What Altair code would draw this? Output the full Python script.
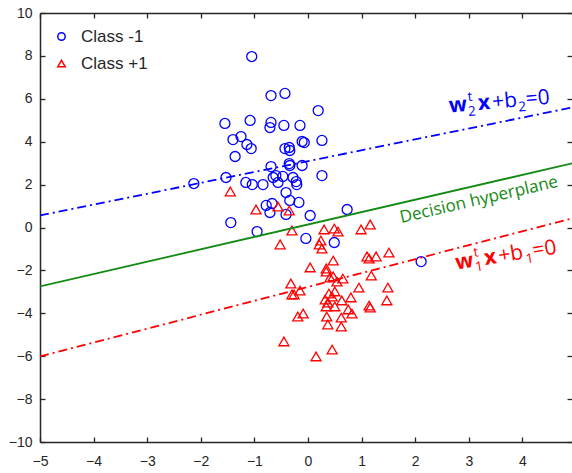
import altair as alt
import pandas as pd

# Class -1 samples
neg_x = [-1.05, -0.69, -0.43, 0.19, -1.55, -1.08, -0.69, -0.71, -0.45, -0.15,
         -1.40, -1.25, -1.14, -1.06, -1.36, -0.43, -0.35, -0.34, -0.11, -0.07,
         0.26, -0.69, -0.35, -0.34, -0.11, 0.26, -2.13, -1.53, -1.16, -1.04,
         -0.84, -0.65, -0.60, -0.56, -0.47, -0.28, -0.22, -0.21, -0.41, -0.78,
         -0.67, -0.71, -0.34, -0.17, -0.41, 0.04, -1.44, -0.95, -0.04, 0.49,
         0.73, 2.11]
neg_y = [7.97, 6.15, 6.25, 5.45, 4.85, 4.99, 4.90, 4.66, 4.76, 4.76,
         4.10, 4.24, 3.87, 3.68, 3.31, 3.68, 3.73, 3.59, 4.01, 3.96,
         4.06, 2.84, 2.98, 2.89, 2.89, 2.42, 2.05, 2.33, 2.10, 2.00,
         2.00, 2.33, 2.42, 2.10, 2.38, 2.33, 2.14, 2.00, 1.63, 1.03,
         1.12, 0.70, 1.26, 1.17, 0.61, 0.56, 0.23, -0.19, -0.51, -0.70,
         0.84, -1.59]

# Class +1 samples
pos_x = [-1.45, -0.97, -0.56, -0.35, -0.30, -0.52, 0.30, 0.49, 0.56, 0.99,
         1.16, 0.24, 0.21, 0.26, 0.47, 0.04, 0.34, 1.10, 1.14, 1.27,
         1.51, 0.34, 0.41, 0.47, 0.54, 0.65, 1.18, -0.32, -0.30, -0.26,
         -0.15, 0.39, 0.50, 0.45, 0.95, 1.49, 0.32, 0.37, 0.63, 0.80,
         1.14, 1.16, 1.47, 0.50, 0.34, 0.75, 0.82, -0.19, -0.09, 0.35,
         0.62, 0.37, 0.62, -0.45, 0.45, 0.15]
pos_y = [1.68, 0.84, 0.98, 0.79, -0.14, -0.79, -0.09, -0.05, -0.19, -0.09,
         0.14, -0.61, -0.79, -0.98, -1.54, -1.86, -1.91, -1.35, -1.45, -1.35,
         -1.17, -2.05, -2.33, -2.28, -2.52, -2.38, -2.24, -2.61, -3.12, -3.12,
         -2.94, -3.08, -2.98, -3.22, -2.80, -2.80, -3.36, -3.50, -3.40, -3.26,
         -3.64, -3.73, -3.40, -3.68, -3.68, -3.82, -4.01, -4.15, -4.01, -4.15,
         -4.20, -4.52, -4.62, -5.31, -5.69, -6.01]

# Boundary lines, given by their values at x = -5 and x = 5
line_names = ["w2", "decision", "w1"]
line_x0 = [-5, -5, -5]
line_x1 = [5, 5, 5]
line_y0 = [0.56, -2.75, -6.01]
line_y1 = [5.63, 3.03, 0.47]

# Annotation anchors
eq_names = ["w2", "w1"]
eq_x = [2.64, 2.77]
eq_y = [5.36, -1.96]
dec_x = [3.21]
dec_y = [1.06]
dec_text = ["Decision hyperplane"]

x_ticks = [-5, -4, -3, -2, -1, 0, 1, 2, 3, 4]
y_ticks = [-10, -8, -6, -4, -2, 0, 2, 4, 6, 8, 10]

classes = ["Class -1", "Class +1"]
points = pd.DataFrame({
    "x": neg_x + pos_x,
    "y": neg_y + pos_y,
    "cls": [classes[0]] * len(neg_x) + [classes[1]] * len(pos_x),
})
lines = pd.DataFrame({"name": line_names, "x0": line_x0, "x1": line_x1,
                      "y0": line_y0, "y1": line_y1})
eqs = pd.DataFrame({"name": eq_names, "x": eq_x, "y": eq_y})
dec = pd.DataFrame({"x": dec_x, "y": dec_y, "t": dec_text})

BLUE = "#0000ff"
RED = "#ff0000"
GREEN = "#138a13"
INK = "#262626"
TICK_FONT = "Liberation Sans"
ANNO_FONT = "Open Sans"

xs = alt.Scale(domain=[-5, 4.925], nice=False, zero=False)
ys = alt.Scale(domain=[-10, 10], nice=False, zero=False)

common_axis = dict(title=None, grid=False, domainColor=INK, domainWidth=1.5,
                   tickColor=INK, tickWidth=1.3, tickSize={"expr": "-5"},
                   labelFont=TICK_FONT, labelFontSize=14, labelColor=INK,
                   labelFlush=False, labelOverlap=False)

x_bottom = alt.Axis(orient="bottom", values=x_ticks, labelPadding=17, **common_axis)
y_left = alt.Axis(orient="left", values=y_ticks, labelPadding=13, **common_axis)
x_top = alt.Axis(orient="top", values=x_ticks, labels=False, **common_axis)
y_right = alt.Axis(orient="right", values=y_ticks, labels=False, domain=False,
                   **{k: v for k, v in common_axis.items() if k not in ("domainColor", "domainWidth")})

scatter = alt.Chart(points).mark_point(filled=False, strokeWidth=1.3, size=100, opacity=1).encode(
    x=alt.X("x:Q", scale=xs, axis=x_bottom),
    y=alt.Y("y:Q", scale=ys, axis=y_left),
    color=alt.Color("cls:N", scale=alt.Scale(domain=classes, range=[BLUE, RED]),
                    legend=alt.Legend(title=None, orient="none", legendX=13, legendY=15,
                                      labelFont=TICK_FONT, labelFontSize=17, labelColor=INK,
                                      symbolSize=55, symbolStrokeWidth=1.5, symbolFillColor="transparent",
                                      rowPadding=9, labelOffset=11, padding=0)),
    shape=alt.Shape("cls:N", scale=alt.Scale(domain=classes, range=["circle", "triangle-up"])),
)

line_styles = {
    "w2": dict(color=BLUE, strokeDash=[9, 4, 2, 4]),
    "decision": dict(color=GREEN),
    "w1": dict(color=RED, strokeDash=[9, 4, 2, 4]),
}
rule_layers = []
for i, name in enumerate(line_names):
    axis_x = x_top if i == 0 else None
    axis_y = y_right if i == 0 else None
    rule_layers.append(
        alt.Chart(lines).transform_filter(alt.datum.name == name)
        .mark_rule(strokeWidth=1.8, clip=True, **line_styles[name])
        .encode(x=alt.X("x0:Q", scale=xs, axis=axis_x), x2="x1:Q",
                y=alt.Y("y0:Q", scale=ys, axis=axis_y), y2="y1:Q")
    )

dec_layer = alt.Chart(dec).mark_text(
    font=ANNO_FONT, fontSize=17, color=GREEN, angle=347, align="center", baseline="alphabetic"
).encode(x=alt.X("x:Q", scale=xs, axis=None), y=alt.Y("y:Q", scale=ys, axis=None), text="t:N")

# Equation labels composed from pieces: (text, dx, dy, size, weight)
eq_pieces = {
    "w2": ([("w", 0, 0, 21, "bold"), ("t", 19.5, -9.5, 13.5, "normal"), ("2", 18.5, 5, 13.5, "normal"),
            ("x", 29, 0, 21, "bold"), ("+b", 43.5, 0, 21, "normal"), ("2", 69, 5, 13.5, "normal"),
            ("=0", 77, 0, 21, "normal")], BLUE, 355),
    "w1": ([("w", 0, 0, 21, "bold"), ("t", 19.5, -9.5, 13.5, "normal"), ("1", 19, 5, 13.5, "normal"),
            ("x", 29, 0, 21, "bold"), ("+b", 43.5, 0, 21, "normal"), ("1", 70, 5, 13.5, "normal"),
            ("=0", 78, 0, 21, "normal")], RED, 351),
}
eq_layers = []
for name, (pieces, col, ang) in eq_pieces.items():
    for txt, dx, dy, sz, wt in pieces:
        eq_layers.append(
            alt.Chart(eqs).transform_filter(alt.datum.name == name)
            .mark_text(text=txt, dx=dx, dy=dy, fontSize=sz, fontWeight=wt, font=ANNO_FONT,
                       color=col, align="left", baseline="alphabetic", angle=ang)
            .encode(x=alt.X("x:Q", scale=xs, axis=None), y=alt.Y("y:Q", scale=ys, axis=None))
        )

chart = alt.layer(scatter, *rule_layers, dec_layer, *eq_layers).resolve_axis(
    x="independent", y="independent"
).properties(
    width=532, height=429, autosize="none",
    padding={"left": 40, "top": 13, "right": 0, "bottom": 31},
).configure_view(stroke=None).configure(background="white")

chart.save("out.html", embed_options={"renderer": "svg", "actions": False})
